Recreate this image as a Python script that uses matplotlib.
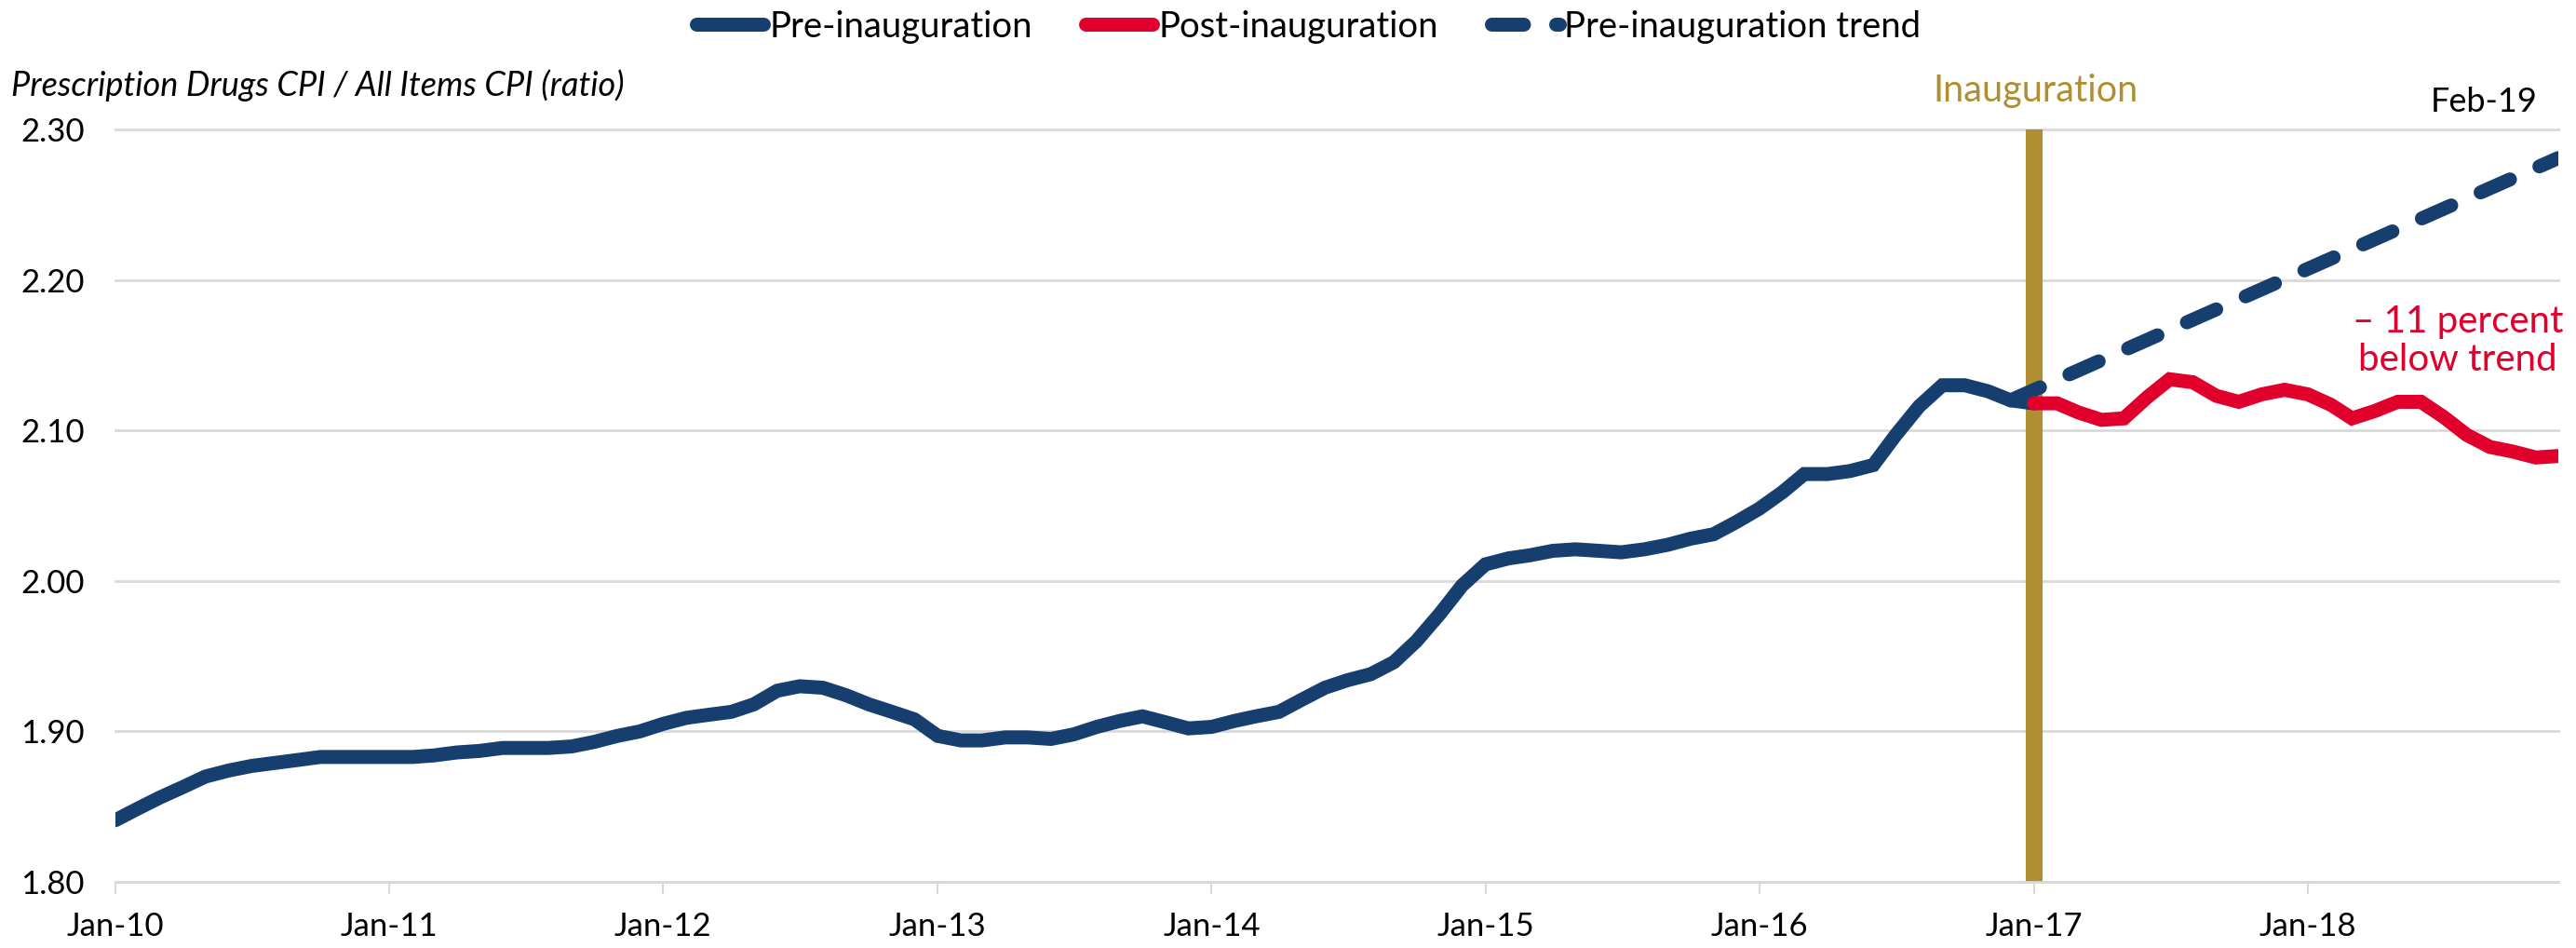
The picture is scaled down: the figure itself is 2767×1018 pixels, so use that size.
import matplotlib
matplotlib.use("Agg")
import matplotlib.pyplot as plt
import matplotlib.dates as mdates
from matplotlib.lines import Line2D
import pandas as pd

# Prescription drugs CPI / all items CPI, monthly
pre_start = "2010-01-01"
pre_values = [
    1.841, 1.849, 1.856, 1.863, 1.870, 1.874, 1.877, 1.879, 1.881, 1.883, 1.883, 1.883,  # 2010
    1.883, 1.883, 1.884, 1.886, 1.887, 1.889, 1.889, 1.889, 1.890, 1.893, 1.897, 1.900,  # 2011
    1.905, 1.909, 1.911, 1.913, 1.918, 1.927, 1.930, 1.929, 1.924, 1.918, 1.913, 1.908,  # 2012
    1.897, 1.894, 1.894, 1.896, 1.896, 1.895, 1.898, 1.903, 1.907, 1.910, 1.906, 1.902,  # 2013
    1.903, 1.907, 1.910, 1.913, 1.921, 1.929, 1.934, 1.938, 1.946, 1.960, 1.978, 1.997,  # 2014
    2.011, 2.015, 2.017, 2.020, 2.021, 2.020, 2.019, 2.021, 2.024, 2.028, 2.031, 2.039,  # 2015
    2.048, 2.059, 2.071, 2.071, 2.073, 2.077, 2.097, 2.116, 2.130, 2.130, 2.126, 2.120,  # 2016
    2.118,                                                                               # Jan-17
]

post_start = "2017-01-01"
post_values = [
    2.118, 2.118, 2.112, 2.107, 2.108, 2.122, 2.134, 2.132, 2.123, 2.119, 2.124, 2.127,  # 2017
    2.124, 2.117, 2.108, 2.113, 2.119, 2.119, 2.109, 2.097, 2.089, 2.086, 2.082, 2.083,  # 2018
]

trend_dates = ["2016-12-01", "2018-12-01"]
trend_values = [2.120, 2.281]

inauguration = "2017-01-01"
x_range = ["2010-01-01", "2018-12-01"]
y_ticks = [1.80, 1.90, 2.00, 2.10, 2.20, 2.30]

navy = "#163E6F"
red = "#E0002B"
gold = "#B08F33"
grid_grey = "#D9D9D9"

plt.rcParams["font.family"] = ["Lato", "DejaVu Sans"]

pre_dates = pd.date_range(pre_start, periods=len(pre_values), freq="MS")
post_dates = pd.date_range(post_start, periods=len(post_values), freq="MS")
trend_x = pd.to_datetime(trend_dates)

W, H = 2767, 1018
fig = plt.figure(figsize=(W / 100, H / 100), dpi=100)
left, right, top, bottom = 124, 2748, 139, 947
ax = fig.add_axes([left / W, 1 - bottom / H, (right - left) / W, (bottom - top) / H])

lw = 10.8
dash = (0, (2.3, 2.3))
ax.axvline(pd.Timestamp(inauguration), color=gold, lw=13, zorder=2)
ax.plot(pre_dates, pre_values, color=navy, lw=lw, solid_capstyle="round",
        solid_joinstyle="miter", zorder=3)
ax.plot(trend_x, trend_values, color=navy, lw=lw, linestyle=dash,
        dash_capstyle="round", zorder=4)
ax.plot(post_dates, post_values, color=red, lw=lw, solid_capstyle="round",
        solid_joinstyle="miter", zorder=5)

ax.set_xlim(pd.Timestamp(x_range[0]), pd.Timestamp(x_range[1]))
ax.set_ylim(y_ticks[0], y_ticks[-1])
ax.set_yticks(y_ticks)
ax.yaxis.set_major_formatter(plt.FuncFormatter(lambda v, p: f"{v:.2f}"))
ax.xaxis.set_major_locator(mdates.YearLocator())
ax.xaxis.set_major_formatter(mdates.DateFormatter("%b-%y"))

ax.grid(axis="y", color=grid_grey, lw=2)
ax.grid(axis="x", visible=False)
for gl in ax.get_ygridlines():
    gl.set_clip_on(False)
ax.set_axisbelow(True)
for side in ["top", "right", "left"]:
    ax.spines[side].set_visible(False)
ax.spines["bottom"].set_color(grid_grey)
ax.spines["bottom"].set_linewidth(2)

ax.tick_params(axis="x", length=9, width=1.5, color=grid_grey, pad=14,
               labelsize=25, labelcolor="black")
ax.tick_params(axis="y", length=0, pad=24, labelsize=25, labelcolor="black")

fig.text(12 / W, 1 - 92 / H, "Prescription Drugs CPI / All Items CPI (ratio)",
         style="italic", fontsize=26, ha="left", va="center")
fig.text(2186 / W, 1 - 97 / H, "Inauguration", color=gold, fontsize=28.5,
         ha="center", va="center")
fig.text(2668 / W, 1 - 109 / H, "Feb-19", color="black", fontsize=26,
         ha="center", va="center")
fig.text(2640 / W, 1 - 366 / H, "\u2013 11 percent\nbelow trend", color=red,
         fontsize=29, ha="center", va="center", linespacing=1.15)

handles = [
    Line2D([], [], color=navy, lw=lw, solid_capstyle="round"),
    Line2D([], [], color=red, lw=lw, solid_capstyle="round"),
    Line2D([], [], color=navy, lw=lw, linestyle=dash, dash_capstyle="round"),
]
labels = ["Pre-inauguration", "Post-inauguration", "Pre-inauguration trend"]
fig.legend(handles, labels, loc="center", bbox_to_anchor=(0.508, 0.972), ncol=3,
           frameon=False, fontsize=27.5, handlelength=1.9, handletextpad=0.15,
           columnspacing=1.5)

fig.savefig("out.png", dpi=100)
